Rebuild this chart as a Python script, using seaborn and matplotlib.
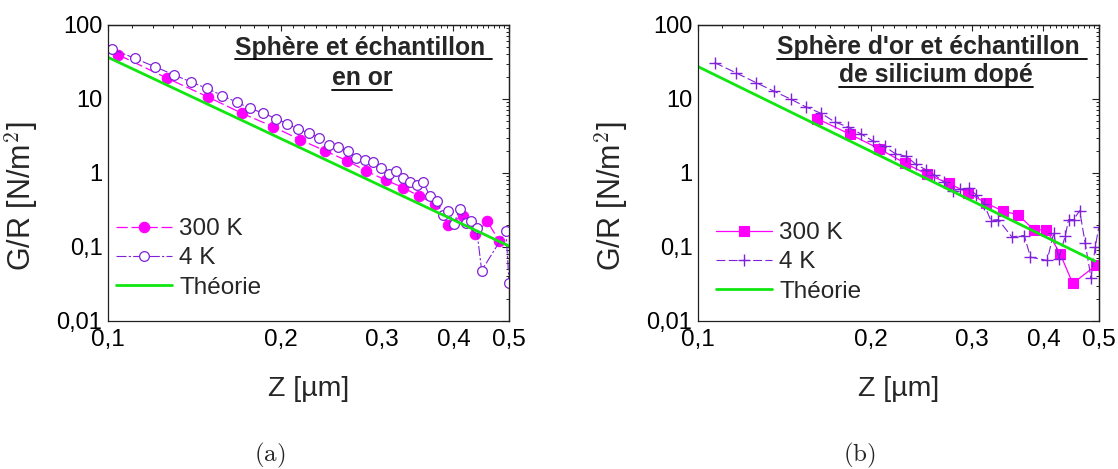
import numpy as np
import pandas as pd
import seaborn as sns
import matplotlib.pyplot as plt
from matplotlib.ticker import FixedLocator, FixedFormatter, LogLocator, NullFormatter
from matplotlib.lines import Line2D

# (a) gold sphere / gold sample
a_z_300 = [0.1043, 0.1268, 0.1492, 0.1715, 0.1941, 0.2163, 0.2388, 0.2606, 0.2822,
           0.305, 0.327, 0.349, 0.371, 0.392, 0.415, 0.436, 0.458, 0.481]
a_g_300 = [39.4, 19.1, 10.7, 6.37, 4.22, 2.81, 2.0, 1.47, 1.06,
           0.80, 0.634, 0.484, 0.386, 0.201, 0.266, 0.148, 0.223, 0.12]
a_z_4 = [0.1016, 0.1113, 0.1208, 0.1303, 0.1395, 0.1488, 0.1582, 0.1676, 0.1771, 0.1864,
         0.1964, 0.2055, 0.2147, 0.2239, 0.2333, 0.2426, 0.2522, 0.2616, 0.2711, 0.2806,
         0.2899, 0.2988, 0.3083, 0.3173, 0.3265, 0.3357, 0.3452, 0.3547, 0.364, 0.374,
         0.383, 0.392, 0.401, 0.410, 0.420, 0.429, 0.439, 0.448, 0.494, 0.5]
a_g_4 = [47.4, 35.5, 27.2, 21.2, 17.0, 13.9, 11.1, 9.06, 7.45, 6.44,
         5.41, 4.58, 3.92, 3.46, 2.99, 2.41, 2.26, 1.96, 1.59, 1.51,
         1.39, 1.17, 0.98, 1.05, 0.857, 0.757, 0.697, 0.748, 0.484, 0.415,
         0.274, 0.304, 0.207, 0.327, 0.212, 0.223, 0.181, 0.048, 0.163, 0.033]
a_z_th = [0.1, 0.5]
a_g_th = [36.6, 0.103]

# (b) gold sphere / doped silicon sample
b_z_300 = [0.1615, 0.1843, 0.2068, 0.2293, 0.2508, 0.2734, 0.2961, 0.3174, 0.3396,
           0.3616, 0.3851, 0.405, 0.4283, 0.450, 0.494]
b_g_300 = [5.41, 3.32, 2.13, 1.36, 0.96, 0.726, 0.537, 0.394, 0.307,
           0.272, 0.170, 0.171, 0.0793, 0.0322, 0.0564]
b_z_4 = [0.1069, 0.1163, 0.1261, 0.1355, 0.1451, 0.1541, 0.1641, 0.1730, 0.1826, 0.1925,
         0.2015, 0.2114, 0.2208, 0.2309, 0.2396, 0.2495, 0.2580, 0.2684, 0.2780, 0.2867,
         0.2965, 0.3053, 0.3148, 0.3240, 0.3337, 0.3523, 0.3704, 0.3798, 0.4061, 0.4168,
         0.4253, 0.4368, 0.4426, 0.4516, 0.4627, 0.4729, 0.4842, 0.4925, 0.4995]
b_g_4 = [31.0, 22.7, 16.7, 12.8, 9.95, 7.84, 6.37, 4.92, 4.17, 3.36,
         2.73, 2.29, 1.82, 1.68, 1.31, 1.11, 0.95, 0.757, 0.578, 0.609,
         0.62, 0.51, 0.386, 0.228, 0.235, 0.137, 0.143, 0.073, 0.0658, 0.155,
         0.0695, 0.143, 0.235, 0.235, 0.31, 0.114, 0.0384, 0.0996, 0.185]
b_z_th = [0.1, 0.492]
b_g_th = [27.4, 0.0644]

x_ticks = [0.1, 0.2, 0.3, 0.4, 0.5]
x_labels = ['0,1', '0,2', '0,3', '0,4', '0,5']
y_ticks = [0.01, 0.1, 1, 10, 100]
y_labels = ['0,01', '0,1', '1', '10', '100']

MAGENTA = '#FF00FF'
VIOLET = '#8020D8'
GREEN = '#11E611'

sns.set_style('white')
plt.rcParams['font.family'] = ['Liberation Sans', 'DejaVu Sans']
plt.rcParams['mathtext.fontset'] = 'cm'

fig = plt.figure(figsize=(11.18, 4.69), dpi=100)
ax_a = fig.add_axes([108 / 1118, 148 / 469, 401 / 1118, 296 / 469])
ax_b = fig.add_axes([698 / 1118, 148 / 469, 401 / 1118, 296 / 469])


def style_axes(ax):
    ax.set_xscale('log')
    ax.set_yscale('log')
    ax.set_xlim(0.1, 0.5)
    ax.set_ylim(0.01, 100)
    minor_x = np.round(np.arange(0.11, 0.5, 0.01), 2)
    ax.xaxis.set_major_locator(FixedLocator(x_ticks))
    ax.xaxis.set_major_formatter(FixedFormatter(x_labels))
    ax.xaxis.set_minor_locator(FixedLocator(minor_x))
    ax.xaxis.set_minor_formatter(NullFormatter())
    ax.yaxis.set_major_locator(FixedLocator(y_ticks))
    ax.yaxis.set_major_formatter(FixedFormatter(y_labels))
    ax.yaxis.set_minor_locator(LogLocator(base=10, subs=np.arange(2, 10)))
    ax.yaxis.set_minor_formatter(NullFormatter())
    for s in ax.spines.values():
        s.set_color('#202020')
        s.set_linewidth(0.9)
    ax.tick_params(axis='x', which='major', direction='out', length=4, width=0.8,
                   labelsize=17.5, pad=2, colors='#202020', labelcolor='black')
    ax.tick_params(axis='x', which='minor', direction='out', length=2.2, width=0.7, colors='#202020')
    ax.tick_params(axis='y', which='major', direction='inout', length=6, width=0.8,
                   labelsize=17, pad=1, colors='#202020', labelcolor='black')
    ax.tick_params(axis='y', which='minor', direction='in', length=2.5, width=0.7, colors='#202020')
    # mirrored ticks on top and right, pointing inside
    top = ax.secondary_xaxis('top')
    top.xaxis.set_major_locator(FixedLocator(x_ticks))
    top.xaxis.set_minor_locator(FixedLocator(minor_x))
    top.xaxis.set_major_formatter(NullFormatter())
    top.xaxis.set_minor_formatter(NullFormatter())
    top.tick_params(which='major', direction='in', length=4, width=0.8, colors='#202020')
    top.tick_params(which='minor', direction='in', length=2.2, width=0.7, colors='#202020')
    right = ax.secondary_yaxis('right')
    right.yaxis.set_major_locator(FixedLocator(y_ticks))
    right.yaxis.set_minor_locator(LogLocator(base=10, subs=np.arange(2, 10)))
    right.yaxis.set_major_formatter(NullFormatter())
    right.yaxis.set_minor_formatter(NullFormatter())
    right.tick_params(which='major', direction='in', length=5, width=0.8, colors='#202020')
    right.tick_params(which='minor', direction='in', length=2.5, width=0.7, colors='#202020')
    for sec in (top, right):
        for s in sec.spines.values():
            s.set_linewidth(0.9)
            s.set_color('#202020')
    ax.set_xlabel('Z [µm]', fontsize=20.5)
    ax.xaxis.set_label_coords(0.5, -0.185)
    ax.set_ylabel(r'G/R [N/m$^{\mathsf{2}}$]', fontsize=22)
    ax.yaxis.set_label_coords(-0.17, 0.42)


# panel (a)
sns.lineplot(x=a_z_300, y=a_g_300, ax=ax_a, color=MAGENTA, lw=0.9,
             linestyle=(0, (9, 3)), marker='o', markersize=7.5, mfc=MAGENTA, mec=MAGENTA,
             mew=0.8, estimator=None, sort=False, label='300 K')
sns.lineplot(x=a_z_4, y=a_g_4, ax=ax_a, color=VIOLET, lw=0.8,
             linestyle=(0, (9, 2, 2, 2)), marker='o', markersize=7, mfc='white', mec=VIOLET,
             mew=0.9, estimator=None, sort=False, label='4 K')
sns.lineplot(x=a_z_th, y=a_g_th, ax=ax_a, color=GREEN, lw=2.0, estimator=None,
             sort=False, label='Théorie')

# panel (b)
sns.lineplot(x=b_z_300, y=b_g_300, ax=ax_b, color=MAGENTA, lw=0.9,
             marker='s', markersize=7, mfc=MAGENTA, mec=MAGENTA, mew=0.8,
             estimator=None, sort=False, label='300 K')
sns.lineplot(x=b_z_4, y=b_g_4, ax=ax_b, color=VIOLET, lw=0.8,
             linestyle=(0, (8, 3)), marker='+', markersize=9, mec=VIOLET, mew=1.0,
             estimator=None, sort=False, label='4 K')
sns.lineplot(x=b_z_th, y=b_g_th, ax=ax_b, color=GREEN, lw=2.0, estimator=None,
             sort=False, label='Théorie')

for ax in (ax_a, ax_b):
    style_axes(ax)

ax_a.legend(loc='lower left', bbox_to_anchor=(0.02, 0.075), frameon=False, fontsize=17.5,
            handlelength=2.3, handletextpad=0.3, labelspacing=0.3, borderpad=0,
            borderaxespad=0)
ax_b.legend(loc='lower left', bbox_to_anchor=(0.045, 0.062), frameon=False, fontsize=17.5,
            handlelength=2.3, handletextpad=0.3, labelspacing=0.3, borderpad=0,
            borderaxespad=0)

# underlined panel titles
titles = [
    (ax_a, 0.638, 0.899, 'Sphère et échantillon '),
    (ax_a, 0.633, 0.797, 'en or'),
    (ax_b, 0.584, 0.901, "Sphère d'or et échantillon "),
    (ax_b, 0.594, 0.807, 'de silicium dopé'),
]
texts = []
for ax, x, y, s in titles:
    t = ax.text(x, y, s, transform=ax.transAxes, ha='center', va='baseline',
                fontsize=17.8, fontweight='bold')
    texts.append((ax, t, y))

fig.text(270 / 1118, 1 - 455 / 469, r'$\mathrm{(a)}$', ha='center', va='center', fontsize=18)
fig.text(859 / 1118, 1 - 455 / 469, r'$\mathrm{(b)}$', ha='center', va='center', fontsize=18)

fig.canvas.draw()
renderer = fig.canvas.get_renderer()
for ax, t, y in texts:
    bb = t.get_window_extent(renderer)
    y_pix = ax.transAxes.transform((0, y))[1] - 4.5
    fig.add_artist(Line2D([bb.x0 / fig.bbox.width, bb.x1 / fig.bbox.width],
                          [y_pix / fig.bbox.height] * 2, transform=fig.transFigure,
                          color='black', lw=1.3))

fig.savefig('out.png', dpi=100)
